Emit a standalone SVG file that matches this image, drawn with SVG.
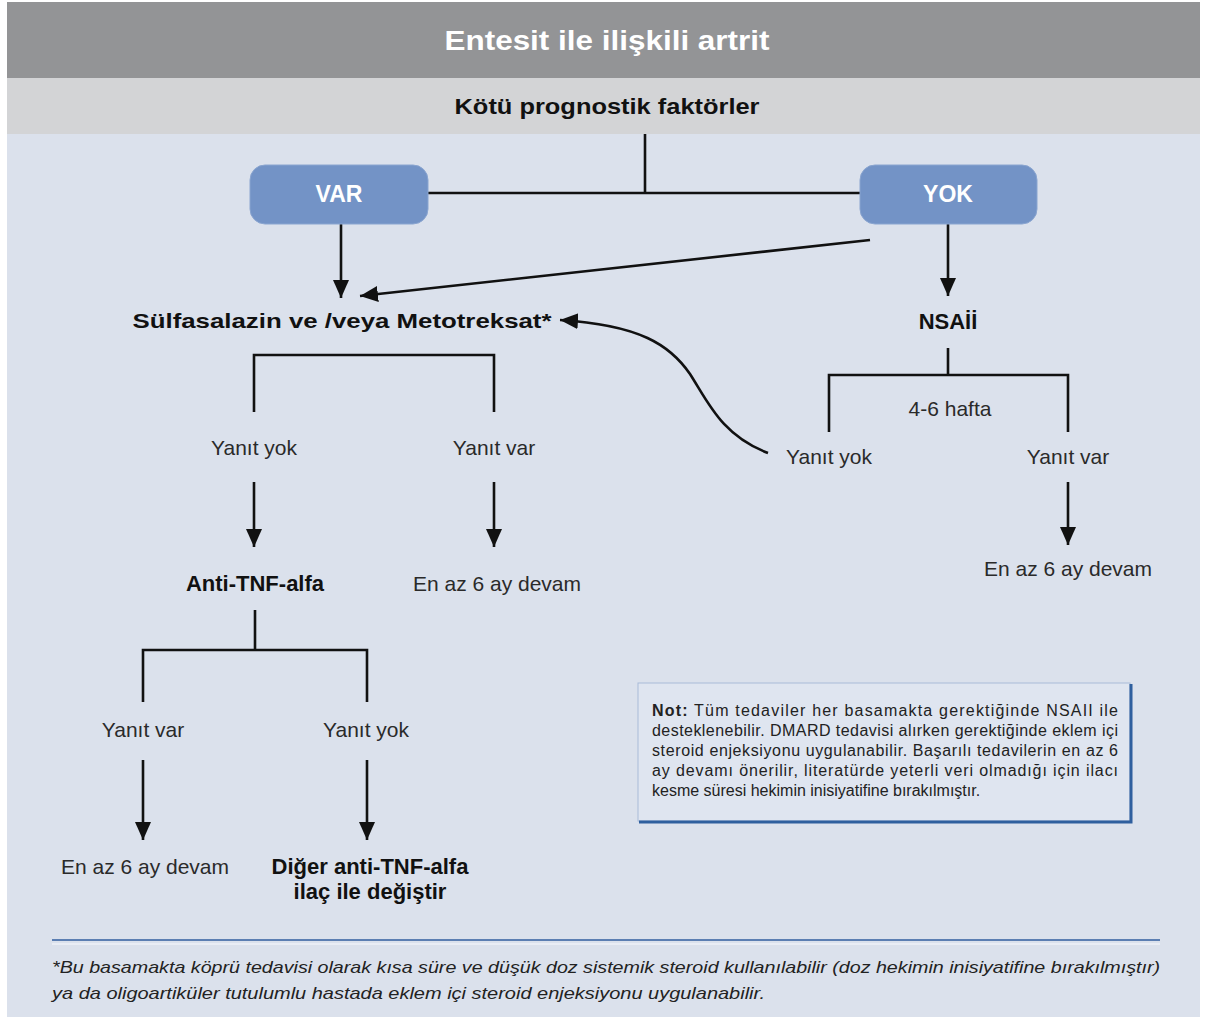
<svg xmlns="http://www.w3.org/2000/svg" width="1205" height="1021" viewBox="0 0 1205 1021">
<style>
  text { font-family: "Liberation Sans", Arial, sans-serif; fill: #2a2a2a; }
  .title { font-size: 27px; font-weight: bold; fill: #ffffff; text-anchor: middle; }
  .sub { font-size: 22px; font-weight: bold; fill: #111111; text-anchor: middle; }
  .box { fill: #7393c6; stroke: #8aa5d0; stroke-width: 1; }
  .boxt { font-size: 23px; font-weight: bold; fill: #ffffff; text-anchor: middle; }
  .b { font-size: 21px; font-weight: bold; fill: #111111; text-anchor: middle; }
  .b2 { font-size: 22px; font-weight: bold; fill: #111111; text-anchor: middle; }
  .r { font-size: 21px; text-anchor: middle; }
  .note { font-size: 16px; fill: #222222; }
  .foot { font-size: 17px; font-style: italic; fill: #222222; }
  .ln { fill: none; stroke: #111111; stroke-width: 2.6; }
  .ar { fill: none; stroke: #111111; stroke-width: 2.6; marker-end: url(#ah); }
</style>
<defs>
  <marker id="ah" markerUnits="userSpaceOnUse" markerWidth="20" markerHeight="18" refX="18" refY="8" orient="auto">
    <path d="M0,0 L18,8 L0,16 Z" fill="#111111"/>
  </marker>
</defs>
<rect x="0" y="0" width="1205" height="1021" fill="#ffffff"/>
<rect x="7" y="2" width="1193" height="1015" fill="#dbe1ec"/>
<rect x="7" y="2" width="1193" height="76" fill="#939496"/>
<rect x="7" y="78" width="1193" height="56" fill="#d3d4d6"/>
<g id="title"><text class="title" x="607" y="50" textLength="325" lengthAdjust="spacingAndGlyphs">Entesit ile ilişkili artrit</text></g>
<g id="kotu"><text class="sub" x="607" y="114" textLength="305" lengthAdjust="spacingAndGlyphs">Kötü prognostik faktörler</text></g>

<g id="connectors">
  <path class="ln" d="M645,134 V193 M428,193 H860"/>
  <path class="ar" d="M341,224 V298"/>
  <path class="ar" d="M870,240 L360,296"/>
  <path class="ar" d="M948,224 V296"/>
  <path class="ar" d="M768,453 C722,436 708,402 690,374 C670,345 640,325 560,320"/>
  <path class="ln" d="M254,412 V355 H494 V412"/>
  <path class="ar" d="M254,482 V547"/>
  <path class="ar" d="M494,482 V547"/>
  <path class="ln" d="M255,610 V650 M143,702 V650 H367 V702"/>
  <path class="ar" d="M143,760 V840"/>
  <path class="ar" d="M367,760 V840"/>
  <path class="ln" d="M948,348 V375 M829,432 V375 H1068 V432"/>
  <path class="ar" d="M1068,482 V545"/>
</g>

<g id="var"><rect class="box" x="250" y="165" width="178" height="59" rx="15"/><text class="boxt" x="339" y="202">VAR</text></g>
<g id="yok"><rect class="box" x="860" y="165" width="177" height="59" rx="15"/><text class="boxt" x="948" y="202">YOK</text></g>

<g id="sulfa"><text class="b" x="342" y="328" textLength="419" lengthAdjust="spacingAndGlyphs">Sülfasalazin ve /veya Metotreksat*</text></g>
<g id="nsaii"><text class="b2" x="948" y="329">NSAİİ</text></g>

<g id="yanit-yok-1"><text class="r" x="254" y="455">Yanıt yok</text></g>
<g id="yanit-var-1"><text class="r" x="494" y="455">Yanıt var</text></g>
<g id="anti-tnf"><text class="b2" x="255" y="591">Anti-TNF-alfa</text></g>
<g id="devam-1"><text class="r" x="497" y="591">En az 6 ay devam</text></g>

<g id="yanit-var-2"><text class="r" x="143" y="737">Yanıt var</text></g>
<g id="yanit-yok-2"><text class="r" x="366" y="737">Yanıt yok</text></g>
<g id="devam-2"><text class="r" x="145" y="874">En az 6 ay devam</text></g>
<g id="diger"><text class="b2" x="370" y="874">Diğer anti-TNF-alfa</text><text class="b2" x="370" y="899">ilaç ile değiştir</text></g>

<g id="hafta"><text class="r" x="950" y="416">4-6 hafta</text></g>
<g id="yanit-yok-3"><text class="r" x="829" y="464">Yanıt yok</text></g>
<g id="yanit-var-3"><text class="r" x="1068" y="464">Yanıt var</text></g>
<g id="devam-3"><text class="r" x="1068" y="576">En az 6 ay devam</text></g>

<g id="note">
  <rect x="638" y="683" width="492" height="138" fill="#dfe5f0" stroke="#a9bbd8" stroke-width="1"/>
  <path d="M639,822 H1131 V684" fill="none" stroke="#2f5f9e" stroke-width="3"/>
  <text class="note" x="652" y="716" textLength="466" lengthAdjust="spacing"><tspan font-weight="bold">Not:</tspan> Tüm tedaviler her basamakta gerektiğinde NSAII ile</text>
  <text class="note" x="652" y="736" textLength="466" lengthAdjust="spacing">desteklenebilir. DMARD tedavisi alırken gerektiğinde eklem içi</text>
  <text class="note" x="652" y="756" textLength="466" lengthAdjust="spacing">steroid enjeksiyonu uygulanabilir. Başarılı tedavilerin en az 6</text>
  <text class="note" x="652" y="776" textLength="466" lengthAdjust="spacing">ay devamı önerilir, literatürde yeterli veri olmadığı için ilacı</text>
  <text class="note" x="652" y="796">kesme süresi hekimin inisiyatifine bırakılmıştır.</text>
</g>

<g id="footer">
  <line x1="52" y1="940" x2="1160" y2="940" stroke="#5b7eb2" stroke-width="2"/>
  <line x1="52" y1="944" x2="1160" y2="944" stroke="#e9edf5" stroke-width="2"/>
  <text class="foot" x="52" y="973" textLength="1108" lengthAdjust="spacingAndGlyphs">*Bu basamakta köprü tedavisi olarak kısa süre ve düşük doz sistemik steroid kullanılabilir (doz hekimin inisiyatifine bırakılmıştır)</text>
  <text class="foot" x="52" y="999" textLength="713" lengthAdjust="spacingAndGlyphs">ya da oligoartiküler tutulumlu hastada eklem içi steroid enjeksiyonu uygulanabilir.</text>
</g>
</svg>
